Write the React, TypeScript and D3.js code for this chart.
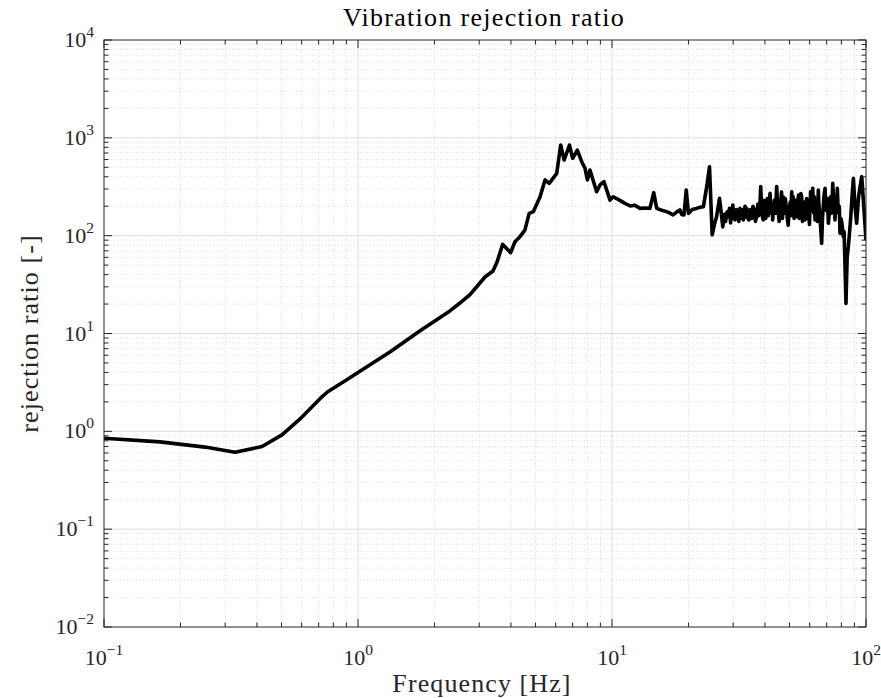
import React from 'react';
import * as d3 from 'd3';

const W = 881;
const H = 698;
const M = {left: 104, right: 866, top: 40, bottom: 627};

// frequency [Hz] and rejection ratio [-]
// low / rising part, up to the resonance peak
const riseFreq = [
  0.1, 0.166, 0.25, 0.328, 0.419, 0.502, 0.59, 0.71, 0.76, 0.9, 1.0, 1.34, 1.75, 2.3, 2.55, 2.76,
  2.9, 3.02, 3.16, 3.4, 3.53, 3.71, 3.99, 4.15, 4.34, 4.54, 4.72, 4.9, 5.21, 5.45, 5.66, 6.06,
  6.28, 6.48, 6.8, 7.0, 7.3, 7.6, 7.83, 8.0, 8.19, 8.7, 8.97, 9.3, 9.82
];
const riseRatio = [
  0.85, 0.78, 0.69, 0.61, 0.7, 0.92, 1.33, 2.17, 2.54, 3.35, 4.0, 6.5, 10.6, 17, 21, 25,
  29, 32.8, 37.8, 43.5, 54, 81.5, 67, 86.7, 97.6, 114, 169, 176, 250, 371, 343, 434,
  845, 593, 845, 618, 750, 570, 488, 371, 469, 281, 330, 356, 231
];
// plateau 10 - 27 Hz
const midFreq = [
  10.1, 10.7, 11.2, 11.8, 12.3, 12.9, 13.5, 14.1, 14.6, 15.0, 15.7, 16.4, 16.9, 17.4, 18.0, 18.5,
  18.8, 19.2, 19.6, 20.0, 20.7, 21.5, 22.2, 22.9, 23.6, 24.2, 24.8, 25.3, 25.8, 26.5, 27.0
];
const midRatio = [
  250, 231, 215, 201, 205, 190, 192, 190, 275, 190, 182, 176, 170, 163, 175, 183,
  165, 163, 293, 169, 185, 190, 195, 198, 317, 507, 102, 130, 156, 241, 160
];
// noisy part 27 - 100 Hz
const noisyFreq = [
  27.3, 27.7, 28.0, 28.4, 28.7, 29.0, 29.3, 29.6, 29.9, 30.2, 30.5, 30.9, 31.2, 31.6, 31.9, 32.2,
  32.4, 32.7, 32.9, 33.2, 33.4, 33.7, 33.9, 34.3, 34.6, 35.0, 35.5, 35.9, 36.3, 36.7, 37.1, 37.5,
  37.8, 38.2, 38.5, 38.8, 39.0, 39.2, 39.4, 39.7, 40.0, 40.3, 40.6, 40.9, 41.2, 41.5, 41.9, 42.2,
  42.4, 42.7, 42.9, 43.2, 43.6, 44.0, 44.5, 44.8, 45.1, 45.5, 45.8, 46.2, 46.5, 46.9, 47.2, 47.5,
  47.8, 48.1, 48.5, 49.0, 49.4, 49.8, 50.3, 50.6, 51.0, 51.3, 51.7, 52.1, 52.5, 52.9, 53.3, 53.7,
  54.2, 54.6, 55.0, 55.4, 55.8, 56.2, 56.7, 57.1, 57.5, 58.0, 58.4, 58.8, 59.3, 59.9, 60.5, 61.1,
  61.7, 62.0, 62.3, 62.6, 63.0, 63.5, 64.0, 64.4, 64.9, 65.3, 65.8, 66.3, 66.9, 67.4, 67.9, 68.4,
  69.0, 69.5, 70.0, 70.5, 71.1, 71.8, 72.5, 73.2, 74.0, 74.4, 74.8, 75.1, 75.5, 75.9, 76.3, 76.7,
  77.1, 77.5, 78.0, 78.5, 79.0, 79.6, 80.2, 80.8, 81.4, 82.0, 82.5, 83.4, 84.3, 85.2, 86.2, 87.1,
  88.2, 89.2, 90.5, 91.9, 93.5, 95.0, 96.2, 98.0, 100
];
const noisyRatio = [
  123, 165, 140, 175, 156, 190, 135, 170, 206, 150, 145, 185, 170, 140, 190, 160,
  150, 185, 145, 170, 200, 155, 190, 150, 145, 185, 150, 200, 180, 140, 156, 210,
  160, 190, 317, 200, 170, 150, 145, 230, 200, 150, 183, 240, 160, 200, 271, 190,
  170, 210, 145, 180, 230, 170, 317, 210, 180, 140, 156, 230, 280, 150, 250, 200,
  170, 240, 200, 150, 128, 180, 220, 160, 280, 190, 250, 150, 170, 230, 156, 200,
  260, 150, 190, 270, 250, 140, 160, 220, 145, 190, 240, 150, 198, 130, 280, 180,
  305, 200, 170, 250, 145, 200, 230, 140, 293, 200, 160, 120, 83.5, 150, 200, 260,
  305, 200, 180, 240, 134, 180, 250, 170, 343, 250, 200, 260, 145, 200, 260, 180,
  305, 220, 170, 200, 106, 150, 140, 120, 98, 110, 60, 20.3, 60, 77, 110, 156,
  260, 385, 200, 134, 250, 330, 401, 200, 90
];

const freq = [...riseFreq, ...midFreq, ...noisyFreq];
const ratio = [...riseRatio, ...midRatio, ...noisyRatio];

const xDecades = [-1, 0, 1, 2];
const yDecades = [-2, -1, 0, 1, 2, 3, 4];

const FONT = '"Liberation Serif", "Times New Roman", serif';
const AX = '#262626';

function Pow({x, y, exp, anchor}: {x: number; y: number; exp: number; anchor: string}) {
  const e = exp < 0 ? '\u2212' + Math.abs(exp) : String(exp);
  return (
    <text x={x} y={y} textAnchor={anchor} fontFamily={FONT} fontSize={22} fill={AX}>
      10<tspan dy={-10} fontSize={15.5}>{e}</tspan>
    </text>
  );
}

export default function App() {
  const x = d3.scaleLog().domain([0.1, 100]).range([M.left, M.right]);
  const y = d3.scaleLog().domain([0.01, 1e4]).range([M.bottom, M.top]);

  const minors = (decs: number[]) => {
    const out: number[] = [];
    decs.slice(0, -1).forEach(d => {
      for (let k = 2; k <= 9; k++) out.push(k * Math.pow(10, d));
    });
    return out;
  };
  const xMinor = minors(xDecades);
  const yMinor = minors(yDecades);

  const pts = freq.map((f, i) => [f, ratio[i]] as [number, number]);
  const line = d3.line<[number, number]>().x(d => x(d[0])).y(d => y(d[1]));

  return (
    <svg width={W} height={H} style={{position: 'absolute', left: 0, top: 0, background: '#fff'}}>
      <rect x={0} y={0} width={W} height={H} fill="#fff" />
      {/* minor grid */}
      <g stroke="#cfcfcf" strokeWidth={0.8} strokeDasharray="1,2.2">
        {xMinor.map(v => (
          <line key={'xm' + v} x1={x(v)} x2={x(v)} y1={M.top} y2={M.bottom} />
        ))}
        {yMinor.map(v => (
          <line key={'ym' + v} x1={M.left} x2={M.right} y1={y(v)} y2={y(v)} />
        ))}
      </g>
      {/* major grid */}
      <g stroke="#dedede" strokeWidth={1}>
        {xDecades.slice(1, -1).map(d => (
          <line key={'xg' + d} x1={x(Math.pow(10, d))} x2={x(Math.pow(10, d))} y1={M.top} y2={M.bottom} />
        ))}
        {yDecades.slice(1, -1).map(d => (
          <line key={'yg' + d} x1={M.left} x2={M.right} y1={y(Math.pow(10, d))} y2={y(Math.pow(10, d))} />
        ))}
      </g>
      <defs>
        <clipPath id="plotclip">
          <rect x={M.left} y={M.top} width={M.right - M.left} height={M.bottom - M.top} />
        </clipPath>
      </defs>
      <path d={line(pts) || ''} fill="none" stroke="#000" strokeWidth={3.6}
        strokeLinejoin="round" clipPath="url(#plotclip)" />
      {/* box + ticks */}
      <g stroke={AX} strokeWidth={1}>
        <rect x={M.left} y={M.top} width={M.right - M.left} height={M.bottom - M.top} fill="none" />
        {xMinor.map(v => (
          <g key={'xt' + v}>
            <line x1={x(v)} x2={x(v)} y1={M.bottom} y2={M.bottom - 4.5} />
            <line x1={x(v)} x2={x(v)} y1={M.top} y2={M.top + 4.5} />
          </g>
        ))}
        {xDecades.map(d => (
          <g key={'xT' + d}>
            <line x1={x(Math.pow(10, d))} x2={x(Math.pow(10, d))} y1={M.bottom} y2={M.bottom - 8} />
            <line x1={x(Math.pow(10, d))} x2={x(Math.pow(10, d))} y1={M.top} y2={M.top + 8} />
          </g>
        ))}
        {yMinor.map(v => (
          <g key={'yt' + v}>
            <line x1={M.left} x2={M.left + 4.5} y1={y(v)} y2={y(v)} />
            <line x1={M.right} x2={M.right - 4.5} y1={y(v)} y2={y(v)} />
          </g>
        ))}
        {yDecades.map(d => (
          <g key={'yT' + d}>
            <line x1={M.left} x2={M.left + 8} y1={y(Math.pow(10, d))} y2={y(Math.pow(10, d))} />
            <line x1={M.right} x2={M.right - 8} y1={y(Math.pow(10, d))} y2={y(Math.pow(10, d))} />
          </g>
        ))}
      </g>
      {/* tick labels */}
      {xDecades.map(d => (
        <Pow key={'xl' + d} x={x(Math.pow(10, d))} y={665} exp={d} anchor="middle" />
      ))}
      {yDecades.map(d => (
        <Pow key={'yl' + d} x={M.left - 10} y={y(Math.pow(10, d)) + 7} exp={d} anchor="end" />
      ))}
      <text x={484} y={26} textAnchor="middle" fontFamily={FONT} fontSize={26} letterSpacing={1.3} fill="#000">
        Vibration rejection ratio
      </text>
      <text x={482} y={692} textAnchor="middle" fontFamily={FONT} fontSize={26} letterSpacing={1.1} fill={AX}>
        Frequency [Hz]
      </text>
      <text transform={`translate(38, ${(M.top + M.bottom) / 2}) rotate(-90)`} textAnchor="middle"
        fontFamily={FONT} fontSize={26} letterSpacing={1.1} fill={AX}>
        rejection ratio [-]
      </text>
    </svg>
  );
}
